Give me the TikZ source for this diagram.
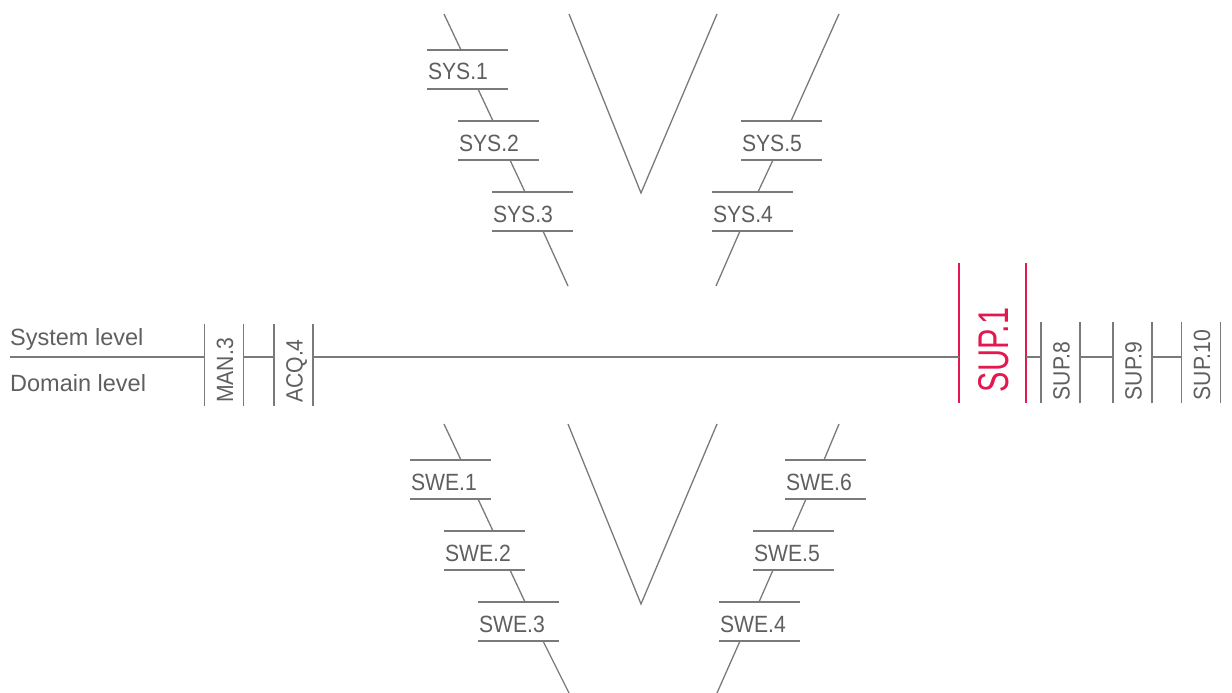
\documentclass[tikz,border=0pt]{standalone}
\usepackage{fontspec}
\setmainfont{Liberation Sans}
\usetikzlibrary{calc}
\definecolor{ink}{HTML}{5F5F5F}
\definecolor{rule}{HTML}{7A7A7A}
\definecolor{accent}{HTML}{E2184E}
% slightly condensed process labels
\newcommand\lbl[1]{\scalebox{0.9}[1]{#1}}

\begin{document}
\begin{tikzpicture}[x=1bp,y=-1bp,
  ln/.style={draw=rule, line width=1.3bp},
  hbox/.style={anchor=north west, inner sep=0pt, outer sep=0pt, inner xsep=1bp,
    text width=79bp, align=left, text height=30bp, text depth=9bp,
    font=\fontsize{23.5bp}{28bp}\selectfont, text=ink},
  vbox/.style={rotate=90, inner sep=0pt, outer sep=0pt, inner xsep=3bp,
    text width=75.5bp, align=left, text height=28.5bp, text depth=10.5bp,
    font=\fontsize{23.5bp}{28bp}\selectfont, text=ink},
  bigbox/.style={rotate=90, inner sep=0pt, outer sep=0pt, inner xsep=11bp,
    text width=118bp, align=left, text height=49bp, text depth=18bp,
    font=\fontsize{43bp}{48bp}\selectfont, text=accent},
  side/.style={anchor=base west, inner sep=0pt, text=ink,
    font=\fontsize{23.5bp}{28bp}\selectfont}]
\useasboundingbox (0,0) rectangle (1232,693);

% level captions
\node[side] (syslvl) at (10,345) {System level};
\node[side] (domlvl) at (10,391) {Domain level};

% system V
\node[hbox] (sys1) at (427,50) {\lbl{SYS.1}};
\node[hbox] (sys2) at (458,121) {\lbl{SYS.2}};
\node[hbox] (sys3) at (492,192) {\lbl{SYS.3}};
\node[hbox] (sys5) at (741,121) {\lbl{SYS.5}};
\node[hbox] (sys4) at (712,192) {\lbl{SYS.4}};

% software V
\node[hbox] (swe1) at (410,460) {\lbl{SWE.1}};
\node[hbox] (swe2) at (444,531) {\lbl{SWE.2}};
\node[hbox] (swe3) at (478,602) {\lbl{SWE.3}};
\node[hbox] (swe6) at (785,460) {\lbl{SWE.6}};
\node[hbox] (swe5) at (753,531) {\lbl{SWE.5}};
\node[hbox] (swe4) at (719,602) {\lbl{SWE.4}};

% processes along the level line
\node[vbox] (man3) at (224,365) {\lbl{MAN.3}};
\node[vbox] (acq4) at (293.5,365) {\lbl{ACQ.4}};
\node[bigbox] (sup1) at (992.5,333) {\scalebox{0.71}[1]{SUP.1}};
\node[vbox] (sup8) at (1060.5,362.5) {\lbl{SUP.8}};
\node[vbox] (sup9) at (1132.5,362.5) {\lbl{SUP.9}};
\node[vbox] (sup10) at (1201,362.5) {\lbl{SUP.10}};

% box rules
\foreach \n in {sys1,sys2,sys3,sys4,sys5,swe1,swe2,swe3,swe4,swe5,swe6,man3,acq4,sup8,sup9,sup10}
  \draw[ln] (\n.north west) -- (\n.north east) (\n.south west) -- (\n.south east);
\draw[ln, draw=accent] (sup1.north west) -- (sup1.north east) (sup1.south west) -- (sup1.south east);

% level line
\coordinate (lvl) at (10,357);
\draw[ln] (lvl) -- (lvl -| man3.north);
\draw[ln] (man3.south |- lvl) -- (acq4.north |- lvl);
\draw[ln] (acq4.south |- lvl) -- (sup1.north |- lvl);
\draw[ln] (sup1.south |- lvl) -- (sup8.north |- lvl);
\draw[ln] (sup8.south |- lvl) -- (sup9.north |- lvl);
\draw[ln] (sup9.south |- lvl) -- (sup10.north |- lvl);

% system V: inner strokes
\coordinate (ta) at (569,14);
\coordinate (tb) at (641,193);
\coordinate (tc) at (717,14);
\draw[ln] (ta) -- (tb) -- (tc);

% system V: left branch
\coordinate (tl0) at (444,14);
\coordinate (tl1) at (568,286);
\draw[ln] (tl0) -- ($(sys1.north west)+(34,0)$);
\draw[ln] ($(sys1.south west)+(51,0)$) -- ($(sys2.north west)+(35,0)$);
\draw[ln] ($(sys2.south west)+(52,0)$) -- ($(sys3.north west)+(33,0)$);
\draw[ln] ($(sys3.south west)+(51,0)$) -- (tl1);

% system V: right branch
\coordinate (tr0) at (839,14);
\coordinate (tr1) at (716,286);
\draw[ln] (tr0) -- ($(sys5.north west)+(50,0)$);
\draw[ln] ($(sys5.south west)+(32,0)$) -- ($(sys4.north west)+(46,0)$);
\draw[ln] ($(sys4.south west)+(28,0)$) -- (tr1);

% software V: inner strokes
\coordinate (ba) at (568,424);
\coordinate (bb) at (641,604);
\coordinate (bc) at (717,424);
\draw[ln] (ba) -- (bb) -- (bc);

% software V: left branch
\coordinate (bl0) at (444,424);
\coordinate (bl1) at (569,693);
\draw[ln] (bl0) -- ($(swe1.north west)+(51,0)$);
\draw[ln] ($(swe1.south west)+(68,0)$) -- ($(swe2.north west)+(49,0)$);
\draw[ln] ($(swe2.south west)+(66,0)$) -- ($(swe3.north west)+(47,0)$);
\draw[ln] ($(swe3.south west)+(65,0)$) -- (bl1);

% software V: right branch
\coordinate (br0) at (839,424);
\coordinate (br1) at (717,693);
\draw[ln] (br0) -- ($(swe6.north west)+(39,0)$);
\draw[ln] ($(swe6.south west)+(21,0)$) -- ($(swe5.north west)+(39,0)$);
\draw[ln] ($(swe5.south west)+(20,0)$) -- ($(swe4.north west)+(40,0)$);
\draw[ln] ($(swe4.south west)+(21,0)$) -- (br1);
\end{tikzpicture}
\end{document}
